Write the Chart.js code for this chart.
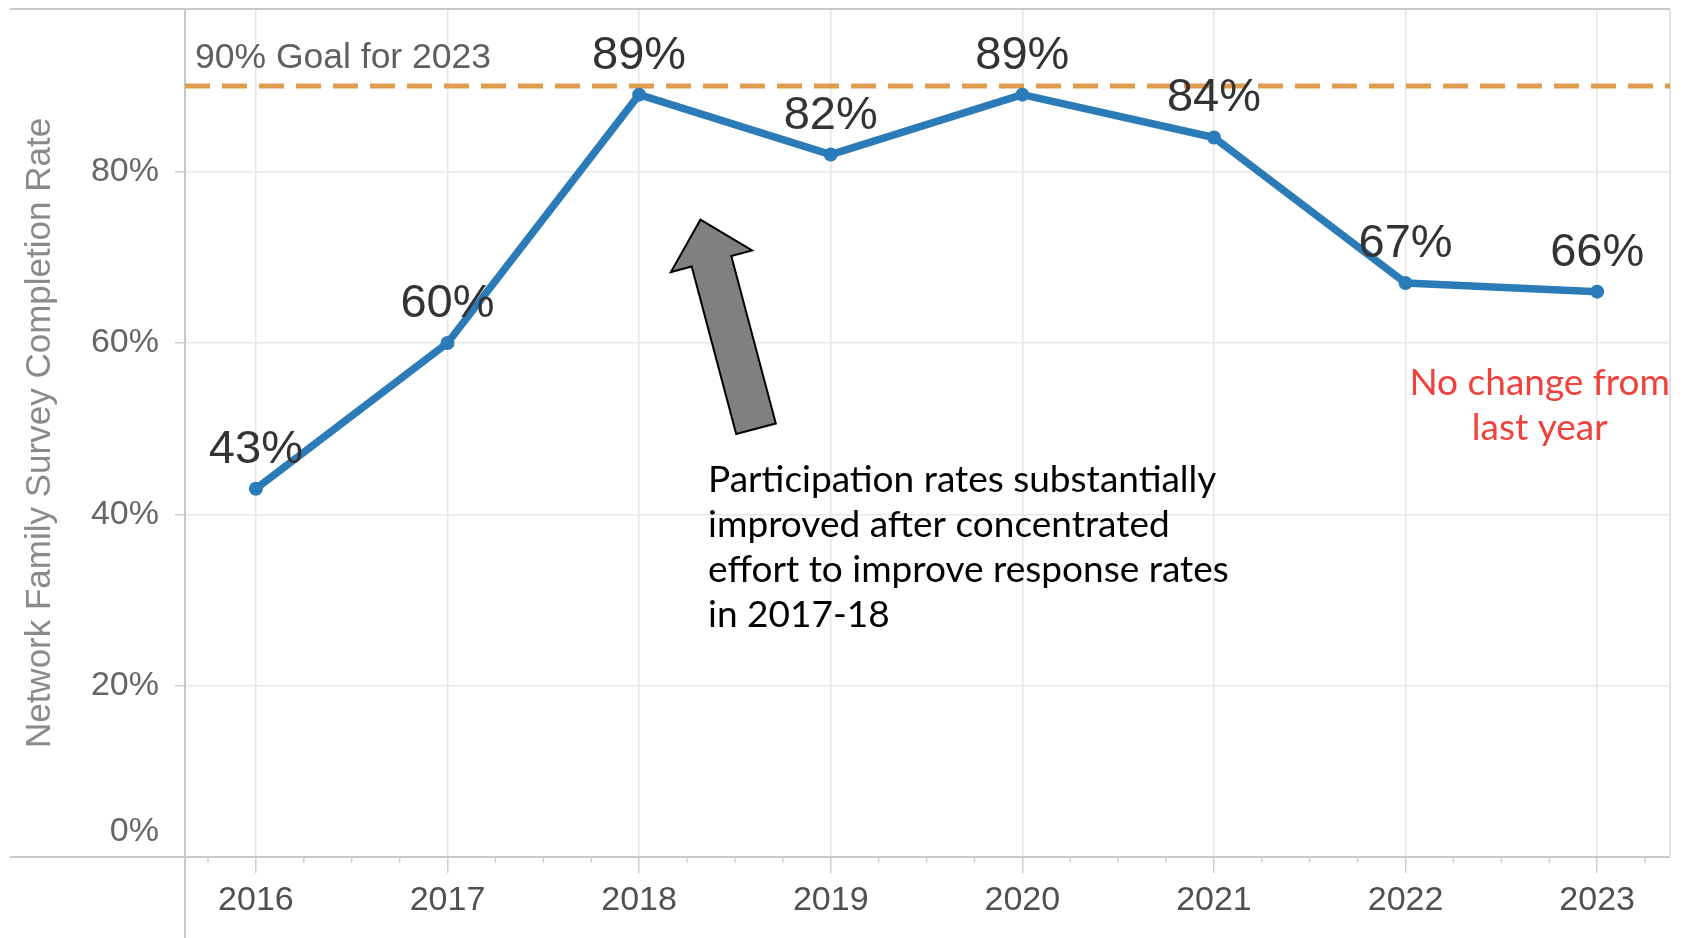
<!DOCTYPE html>
<html>
<head>
<meta charset="utf-8">
<script src="https://cdn.jsdelivr.net/npm/chart.js@4.4.1/dist/chart.umd.min.js"></script>
<style>
  html, body { margin: 0; padding: 0; background: #fff; }
  #wrap { width: 1682px; height: 938px; position: relative; }
</style>
</head>
<body>
<div id="wrap"><canvas id="rateChart"></canvas></div>
<script>
// survey completion by school year
const years = [2016, 2017, 2018, 2019, 2020, 2021, 2022, 2023];
const completionRate = [43, 60, 89, 82, 89, 84, 67, 66];
const yTicks = [0, 20, 40, 60, 80];
const goalRate = 90;
const goalLabel = "90% Goal for 2023";
const noteLines = [
  "Participation rates substantially",
  "improved after concentrated",
  "effort to improve response rates",
  "in 2017-18",
];
const changeLines = ["No change from", "last year"];

// annotation anchors, in axis units (year, percent)
const arrowTip = { x: 2018.32, y: 74.4 };
const arrowTail = { x: 2018.61, y: 50.0 };
const noteAnchor = { x: 2018.36, y: 44.0 };
const changeAnchor = { x: 2022.7, y: 55.3 };

const AXIS_FONT = "'Liberation Sans', Arial, sans-serif";
const NOTE_FONT = "Lato, 'Open Sans', sans-serif";
const BLUE = "#2b7bb9";

const isYear = v => Math.abs(v - Math.round(v)) < 1e-6;

// quarter-year ticks; only whole years get a label and a grid line
function quarterTicks(scale) {
  const out = [];
  for (let yr = years[0] - 1; yr <= years[years.length - 1]; yr++) {
    for (let q = 0; q < 4; q++) {
      const v = yr + q / 4;
      if (v >= scale.min && v <= scale.max) out.push({ value: v });
    }
  }
  scale.ticks = out;
}

function line(ctx, x1, y1, x2, y2) {
  ctx.beginPath();
  ctx.moveTo(x1, y1);
  ctx.lineTo(x2, y2);
  ctx.stroke();
}

// pane border, minor ticks, 0% label and the goal line
const framePlugin = {
  id: "frame",
  beforeDatasetsDraw(chart) {
    const { ctx, chartArea: a, scales: { x, y } } = chart;
    ctx.save();
    ctx.strokeStyle = "#c9c9c9";
    ctx.lineWidth = 2;
    line(ctx, 10, a.top, a.right, a.top);
    line(ctx, 10, a.bottom, a.right, a.bottom);
    line(ctx, a.left, a.top, a.left, chart.height);
    ctx.strokeStyle = "#e2e2e2";
    line(ctx, a.right, a.top, a.right, a.bottom);

    ctx.strokeStyle = "#d0d0d0";
    ctx.lineWidth = 1.5;
    x.ticks.forEach(t => {
      if (isYear(t.value)) return;
      const px = x.getPixelForValue(t.value);
      line(ctx, px, a.bottom, px, a.bottom + 6);
    });

    ctx.fillStyle = "#666";
    ctx.font = "34px " + AXIS_FONT;
    ctx.textAlign = "right";
    ctx.textBaseline = "middle";
    ctx.fillText("0%", a.left - 26, y.getPixelForValue(0) - 25);

    const gy = y.getPixelForValue(goalRate);
    ctx.strokeStyle = "#e09c4f";
    ctx.lineWidth = 5;
    ctx.setLineDash([25, 12]);
    line(ctx, a.left, gy, a.right, gy);
    ctx.setLineDash([]);

    ctx.fillStyle = "#5f5f5f";
    ctx.font = "35.5px " + AXIS_FONT;
    ctx.textAlign = "left";
    ctx.fillText(goalLabel, a.left + 10, gy - 28);
    ctx.restore();
  },
};

// value labels above each point
const valueLabels = {
  id: "valueLabels",
  afterDatasetsDraw(chart) {
    const { ctx } = chart;
    const meta = chart.getDatasetMeta(0);
    ctx.save();
    ctx.fillStyle = "#333";
    ctx.font = "47px " + AXIS_FONT;
    ctx.textAlign = "center";
    ctx.textBaseline = "middle";
    meta.data.forEach((pt, i) => {
      ctx.fillText(completionRate[i] + "%", pt.x, pt.y - 39);
    });
    ctx.restore();
  },
};

// block arrow and text notes
const notesPlugin = {
  id: "notes",
  afterDraw(chart) {
    const { ctx, scales: { x, y } } = chart;
    const tip = { x: x.getPixelForValue(arrowTip.x), y: y.getPixelForValue(arrowTip.y) };
    const tail = { x: x.getPixelForValue(arrowTail.x), y: y.getPixelForValue(arrowTail.y) };
    const dx = tip.x - tail.x, dy = tip.y - tail.y;
    const len = Math.hypot(dx, dy);
    const ux = dx / len, uy = dy / len;
    const nx = -uy, ny = ux;
    const shaft = 41 / 2, head = 84 / 2, headLen = 43;
    const bx = tip.x - ux * headLen, by = tip.y - uy * headLen;

    ctx.save();
    ctx.beginPath();
    ctx.moveTo(tip.x, tip.y);
    ctx.lineTo(bx + nx * head, by + ny * head);
    ctx.lineTo(bx + nx * shaft, by + ny * shaft);
    ctx.lineTo(tail.x + nx * shaft, tail.y + ny * shaft);
    ctx.lineTo(tail.x - nx * shaft, tail.y - ny * shaft);
    ctx.lineTo(bx - nx * shaft, by - ny * shaft);
    ctx.lineTo(bx - nx * head, by - ny * head);
    ctx.closePath();
    ctx.fillStyle = "#808080";
    ctx.fill();
    ctx.strokeStyle = "#000";
    ctx.lineWidth = 2;
    ctx.lineJoin = "miter";
    ctx.stroke();

    ctx.font = "37px " + NOTE_FONT;
    ctx.textBaseline = "middle";
    ctx.fillStyle = "#000";
    ctx.textAlign = "left";
    const nX = x.getPixelForValue(noteAnchor.x);
    const nY = y.getPixelForValue(noteAnchor.y);
    noteLines.forEach((t, i) => ctx.fillText(t, nX, nY + i * 45));

    ctx.fillStyle = "#f0413a";
    ctx.textAlign = "center";
    const cX = x.getPixelForValue(changeAnchor.x);
    const cY = y.getPixelForValue(changeAnchor.y);
    changeLines.forEach((t, i) => ctx.fillText(t, cX, cY + i * 45));
    ctx.restore();
  },
};

new Chart(document.getElementById("rateChart"), {
  type: "line",
  data: {
    datasets: [
      {
        data: years.map((yr, i) => ({ x: yr, y: completionRate[i] })),
        borderColor: BLUE,
        backgroundColor: BLUE,
        borderWidth: 7.5,
        borderJoinStyle: "round",
        pointRadius: 7,
        pointHoverRadius: 7,
        pointBackgroundColor: BLUE,
        pointBorderWidth: 0,
        tension: 0,
        clip: false,
      },
    ],
  },
  options: {
    responsive: true,
    maintainAspectRatio: false,
    animation: false,
    layout: { padding: { left: 0, top: 9, right: 12, bottom: 0 } },
    plugins: {
      legend: { display: false },
      tooltip: { enabled: false },
    },
    scales: {
      x: {
        type: "linear",
        min: 2015.63,
        max: 2023.38,
        afterFit(scale) {
          scale.height = 81;
          scale.paddingLeft = 0;
          scale.paddingRight = 0;
        },
        afterBuildTicks: quarterTicks,
        ticks: {
          autoSkip: false,
          maxRotation: 0,
          padding: 7,
          color: "#505050",
          font: { family: AXIS_FONT, size: 34 },
          callback: v => (isYear(v) ? String(Math.round(v)) : ""),
        },
        grid: {
          color: ctx => (ctx.tick && isYear(ctx.tick.value) ? "#e6e6e6" : "rgba(0,0,0,0)"),
          tickColor: ctx => (ctx.tick && isYear(ctx.tick.value) ? "#cfcfcf" : "rgba(0,0,0,0)"),
          tickLength: 16,
          lineWidth: 1.5,
        },
        border: { display: false },
      },
      y: {
        min: 0,
        max: 99,
        afterFit(scale) {
          scale.width = 185;
          scale.paddingTop = 0;
          scale.paddingBottom = 0;
        },
        afterBuildTicks(scale) {
          scale.ticks = yTicks.map(v => ({ value: v }));
        },
        ticks: {
          padding: 16,
          color: "#666",
          font: { family: AXIS_FONT, size: 34 },
          callback: v => (v === 0 ? "" : v + "%"),
        },
        grid: {
          color: "#e8e8e8",
          tickColor: "#cfcfcf",
          tickLength: 10,
          lineWidth: 1.5,
        },
        border: { display: false },
        title: {
          display: true,
          text: "Network Family Survey Completion Rate",
          color: "#8a8a8a",
          font: { family: AXIS_FONT, size: 35 },
          padding: { top: 19, bottom: 0 },
        },
      },
    },
  },
  plugins: [framePlugin, valueLabels, notesPlugin],
});
</script>
</body>
</html>
